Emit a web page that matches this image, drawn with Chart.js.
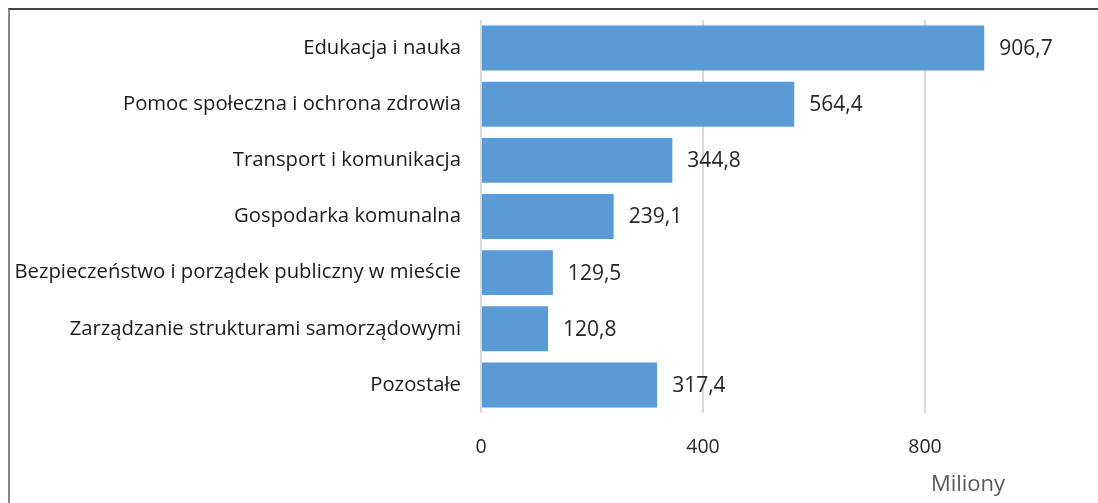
<!DOCTYPE html>
<html>
<head>
<meta charset="utf-8">
<script src="https://cdn.jsdelivr.net/npm/chart.js@4.4.1/dist/chart.umd.min.js"></script>
<style>
  html, body { margin: 0; padding: 0; background: #fff; overflow: hidden; }
  #wrap { position: relative; width: 1098px; height: 503px; }
  #frame { position: absolute; left: 8px; top: 8px; width: 1200px; height: 600px;
           border-top: 2px solid #444; border-left: 2px solid #888; box-sizing: border-box; }
  canvas { position: absolute; left: 0; top: 0; }
</style>
</head>
<body>
<div id="wrap">
  <div id="frame"></div>
  <canvas id="c" width="1098" height="503"></canvas>
</div>
<script>
const categories = [
  "Edukacja i nauka",
  "Pomoc społeczna i ochrona zdrowia",
  "Transport i komunikacja",
  "Gospodarka komunalna",
  "Bezpieczeństwo i porządek publiczny w mieście",
  "Zarządzanie strukturami samorządowymi",
  "Pozostałe"
];
const values = [906.7, 564.4, 344.8, 239.1, 129.5, 120.8, 317.4];
const tickValues = [0, 400, 800];
const axisMax = 1000;
const unitLabel = "Miliony";

const FONT = "'Open Sans', 'Liberation Sans', sans-serif";

const labelPlugin = {
  id: 'valueLabels',
  afterDatasetsDraw(chart) {
    const ctx = chart.ctx;
    const meta = chart.getDatasetMeta(0);
    ctx.save();
    ctx.font = "21px " + FONT;
    ctx.fillStyle = "#262626";
    ctx.textAlign = "left";
    ctx.textBaseline = "middle";
    meta.data.forEach((bar, i) => {
      const txt = values[i].toFixed(1).replace('.', ',');
      ctx.fillText(txt, bar.x + 15, bar.y + 1);
    });
    ctx.font = "22px " + FONT;
    ctx.fillStyle = "#595959";
    ctx.textAlign = "center";
    ctx.fillText(unitLabel, 968, 485);
    ctx.restore();
  }
};

new Chart(document.getElementById('c'), {
  type: 'bar',
  data: {
    labels: categories,
    datasets: [{
      data: values,
      backgroundColor: '#5B9BD5',
      borderWidth: 0,
      categoryPercentage: 0.8,
      barPercentage: 1.0
    }]
  },
  options: {
    indexAxis: 'y',
    responsive: false,
    animation: false,
    layout: { padding: { left: 0, right: 62, top: 20, bottom: 0 } },
    plugins: { legend: { display: false }, tooltip: { enabled: false } },
    scales: {
      x: {
        min: 0, max: axisMax,
        afterBuildTicks(scale) {
          scale.ticks = tickValues.map(v => ({ value: v }));
        },
        afterFit(scale) { scale.height = 90; scale.paddingLeft = 0; scale.paddingRight = 0; },
        grid: { color: '#D9D9D9', lineWidth: 2, drawTicks: false },
        border: { display: false },
        ticks: { font: { family: FONT, size: 19.5 }, color: '#262626', padding: 23, maxRotation: 0 }
      },
      y: {
        afterFit(scale) { scale.width = 481; scale.paddingTop = 0; scale.paddingBottom = 0; },
        grid: { display: false },
        border: { display: false },
        ticks: { font: { family: FONT, size: 20.3 }, color: '#1a1a1a', padding: 12 }
      }
    }
  },
  plugins: [labelPlugin]
});
</script>
</body>
</html>
